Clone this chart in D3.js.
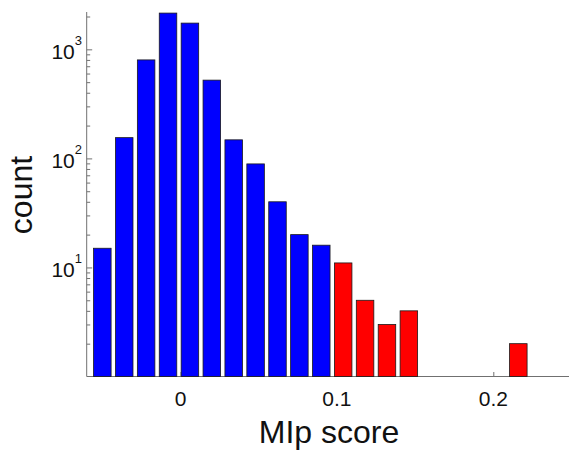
<!DOCTYPE html>
<html>
<head>
<meta charset="utf-8">
<script src="https://cdn.jsdelivr.net/npm/d3@7"></script>
<style>
  html, body { margin: 0; padding: 0; background: #fff; }
  svg { display: block; }
  text { font-family: "Liberation Sans", Arial, Helvetica, sans-serif; fill: #111; }
</style>
</head>
<body>
<svg id="chart" width="569" height="452"></svg>
<script>
// Histogram of MIp scores: bin centres and counts per bin (log-scaled count axis)
const binCenters = [-0.050, -0.036, -0.022, -0.008, 0.006, 0.020, 0.034, 0.048, 0.062, 0.076,
                    0.090, 0.104, 0.118, 0.132, 0.146, 0.160, 0.174, 0.188, 0.202, 0.216];
const binCounts  = [15, 155, 800, 2150, 1740, 522, 148, 89, 40, 20,
                    16, 11, 5, 3, 4, 0, 0, 0, 0, 2];
const binWidth = 0.014;
const highScoreCut = 0.1;          // bins at or above this score are highlighted

const xTickValues = [0, 0.1, 0.2];
const xTickLabels = ["0", "0.1", "0.2"];
const yMajorTicks = [10, 100, 1000];
const yTickExponents = ["1", "2", "3"];

const xDomain = [-0.06, 0.25];
const yDomain = [1, 2200];

const W = 569, H = 452;
const plot = { left: 86.7, right: 571.5, top: 12, bottom: 376.5 };

const svg = d3.select("#chart");
svg.append("rect").attr("width", W).attr("height", H).attr("fill", "#fff");

const x = d3.scaleLinear().domain(xDomain).range([plot.left, plot.right]);
const y = d3.scaleLog().domain(yDomain).range([plot.bottom, plot.top]);

const axisColor = "#707070";

// ---- left (log) axis: inward ticks, major + minor ----
const minorTicks = [];
for (let d = 1; d <= 1000; d *= 10) {
  for (let m = 2; m <= 9; m++) {
    const v = d * m;
    if (v <= yDomain[1]) minorTicks.push(v);
  }
}

const gMinor = svg.append("g")
  .attr("transform", `translate(${plot.left},0)`)
  .call(d3.axisLeft(y).tickValues(minorTicks).tickSize(-3.5).tickFormat(""));
const gMajor = svg.append("g")
  .attr("transform", `translate(${plot.left},0)`)
  .call(d3.axisLeft(y).tickValues(yMajorTicks).tickSize(-5.5).tickFormat(""));
[gMinor, gMajor].forEach(g => {
  g.selectAll(".domain").remove();
  g.selectAll("line").attr("stroke", axisColor).attr("stroke-width", 1);
});

// left axis spine
svg.append("line")
  .attr("x1", plot.left).attr("x2", plot.left)
  .attr("y1", plot.top).attr("y2", plot.bottom)
  .attr("stroke", axisColor).attr("stroke-width", 1);

// power-of-ten labels
const yLabels = svg.append("g");
yMajorTicks.forEach((v, i) => {
  const t = yLabels.append("text")
    .attr("x", 82)
    .attr("y", y(v) + 10)
    .attr("text-anchor", "end")
    .attr("font-size", 21);
  t.append("tspan").text("10");
  t.append("tspan").attr("font-size", 13).attr("dy", -14).text(yTickExponents[i]);
});

// ---- bottom axis: inward ticks ----
const gx = svg.append("g")
  .attr("transform", `translate(0,${plot.bottom})`)
  .call(d3.axisBottom(x).tickValues(xTickValues).tickSize(-4.5).tickFormat(""));
gx.selectAll(".domain").remove();
gx.selectAll("line").attr("stroke", axisColor).attr("stroke-width", 1);

svg.append("line")
  .attr("x1", plot.left).attr("x2", plot.right)
  .attr("y1", plot.bottom).attr("y2", plot.bottom)
  .attr("stroke", axisColor).attr("stroke-width", 1);

svg.append("g").selectAll("text")
  .data(xTickValues)
  .join("text")
  .attr("x", d => x(d))
  .attr("y", 406)
  .attr("text-anchor", "middle")
  .attr("font-size", 21)
  .text((d, i) => xTickLabels[i]);

// ---- bars ----
const bars = binCenters
  .map((c, i) => ({ center: c, count: binCounts[i] }))
  .filter(d => d.count > 0);

const barFrac = 0.8;
svg.append("g").selectAll("rect")
  .data(bars)
  .join("rect")
  .attr("x", d => x(d.center - binWidth * barFrac / 2))
  .attr("width", d => x(d.center + binWidth * barFrac / 2) - x(d.center - binWidth * barFrac / 2))
  .attr("y", d => y(d.count))
  .attr("height", d => y(yDomain[0]) - y(d.count))
  .attr("fill", d => d.center >= highScoreCut ? "#ff0000" : "#0000ff")
  .attr("stroke", "#1a1a1a")
  .attr("stroke-width", 0.8);

// ---- axis titles ----
svg.append("text")
  .attr("x", 329)
  .attr("y", 443)
  .attr("text-anchor", "middle")
  .attr("font-size", 32)
  .text("MIp score");

svg.append("text")
  .attr("transform", `translate(31.5,195) rotate(-90)`)
  .attr("text-anchor", "middle")
  .attr("font-size", 32)
  .text("count");
</script>
</body>
</html>
